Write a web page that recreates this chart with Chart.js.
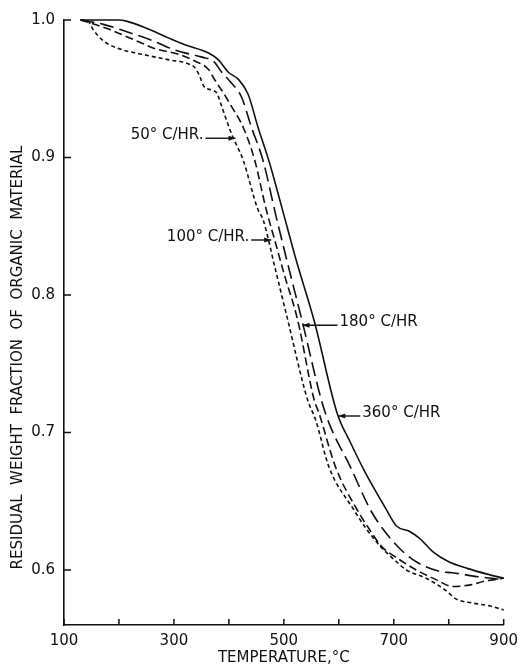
<!DOCTYPE html>
<html>
<head>
<meta charset="utf-8">
<script src="https://cdn.jsdelivr.net/npm/chart.js@4.4.1/dist/chart.umd.min.js"></script>
<style>
  html, body { margin: 0; padding: 0; background: #fff; }
  #wrap { width: 525px; height: 668px; }
</style>
</head>
<body>
<div id="wrap"><canvas id="tgaChart" width="525" height="668"></canvas></div>
<script>
// residual weight fraction vs temperature, one pair of arrays per heating rate
const rate360Temp = [130, 200, 215, 250, 290, 320, 363, 381, 399, 417, 435, 453, 474, 492, 507, 522, 556, 597, 622, 648, 685, 705, 729, 747, 772, 800, 835, 870, 900];
const rate360Frac = [1.0, 1.0, 0.999, 0.994, 0.987, 0.982, 0.976, 0.971, 0.962, 0.957, 0.946, 0.922, 0.896, 0.870, 0.848, 0.826, 0.780, 0.714, 0.692, 0.671, 0.645, 0.632, 0.628, 0.623, 0.613, 0.606, 0.601, 0.597, 0.594];

const rate180Temp = [130, 170, 225, 261, 303, 351, 372, 387, 405, 423, 441, 462, 486, 510, 534, 568, 582, 621, 660, 705, 741, 783, 807, 855, 900];
const rate180Frac = [1.0, 0.997, 0.990, 0.985, 0.978, 0.973, 0.970, 0.962, 0.954, 0.944, 0.922, 0.898, 0.857, 0.818, 0.780, 0.724, 0.707, 0.675, 0.642, 0.618, 0.606, 0.599, 0.598, 0.595, 0.593];

const rate100Temp = [130, 177, 231, 267, 309, 339, 363, 375, 390, 405, 426, 447, 468, 482, 500, 525, 555, 564, 594, 633, 655, 678, 705, 741, 777, 807, 837, 867, 900];
const rate100Frac = [1.0, 0.994, 0.985, 0.979, 0.975, 0.970, 0.964, 0.956, 0.947, 0.937, 0.922, 0.898, 0.862, 0.842, 0.816, 0.782, 0.724, 0.714, 0.675, 0.644, 0.630, 0.617, 0.609, 0.600, 0.593, 0.588, 0.589, 0.592, 0.594];

const rate50Temp = [130, 144, 153, 171, 201, 243, 291, 327, 339, 348, 354, 369, 378, 387, 405, 426, 453, 462, 485, 507, 543, 558, 582, 627, 650, 676, 705, 723, 759, 795, 813, 843, 873, 900];
const rate50Frac = [1.0, 0.999, 0.993, 0.985, 0.979, 0.975, 0.971, 0.968, 0.965, 0.958, 0.952, 0.949, 0.947, 0.937, 0.917, 0.898, 0.862, 0.855, 0.818, 0.782, 0.724, 0.709, 0.675, 0.644, 0.630, 0.617, 0.606, 0.600, 0.594, 0.585, 0.579, 0.576, 0.574, 0.571];

const rateLabels = ['360° C/HR', '180° C/HR', '100° C/HR.', '50° C/HR.'];

const xTickValues = [100, 200, 300, 400, 500, 600, 700, 800, 900];
const xTickLabels = [100, 300, 500, 700, 900];
const yTickValues = [0.6, 0.7, 0.8, 0.9, 1.0];

const FONT = 'DejaVu Sans';
const INK = '#111';

// labels on the curves: text + where the arrow touches the curve
const notes = [
    { text: rateLabels[3], tipT: 412, tipV: 0.914, side: 'left', arrow: 30 },
    { text: rateLabels[2], tipT: 477, tipV: 0.840, side: 'left', arrow: 20 },
    { text: rateLabels[1], tipT: 534, tipV: 0.778, side: 'right', arrow: 35 },
    { text: rateLabels[0], tipT: 599, tipV: 0.712, side: 'right', arrow: 22 }
];

function toPoints(temps, fracs) {
    return temps.map((t, i) => ({ x: t, y: fracs[i] }));
}

function lineSet(label, temps, fracs, dash) {
    return {
        label: label,
        data: toPoints(temps, fracs),
        borderColor: INK,
        borderWidth: 1.6,
        borderDash: dash,
        pointRadius: 0,
        fill: false,
        cubicInterpolationMode: 'monotone',
        clip: 4
    };
}

// tick marks point into the plot on both axes
const tickMarks = {
    id: 'tickMarks',
    afterDraw(chart) {
        const { ctx, chartArea, scales: { x, y } } = chart;
        ctx.save();
        ctx.strokeStyle = INK;
        ctx.lineWidth = 1.5;
        ctx.beginPath();
        xTickValues.forEach(v => {
            const px = x.getPixelForValue(v);
            ctx.moveTo(px, chartArea.bottom);
            ctx.lineTo(px, chartArea.bottom - 6);
        });
        yTickValues.forEach(v => {
            const py = y.getPixelForValue(v);
            ctx.moveTo(chartArea.left, py);
            ctx.lineTo(chartArea.left + 7, py);
        });
        ctx.stroke();
        ctx.restore();
    }
};

// vertical y title, sits a bit below the middle of the axis like the original
const yTitle = {
    id: 'yTitle',
    afterDraw(chart) {
        const { ctx, chartArea } = chart;
        ctx.save();
        ctx.translate(18, (chartArea.top + chartArea.bottom) / 2 + 35);
        ctx.rotate(-Math.PI / 2);
        ctx.fillStyle = INK;
        ctx.font = '15px "' + FONT + '"';
        ctx.textAlign = 'center';
        ctx.textBaseline = 'middle';
        ctx.fillText('RESIDUAL  WEIGHT  FRACTION  OF  ORGANIC  MATERIAL', 0, 0);
        ctx.restore();
    }
};

const curveNotes = {
    id: 'curveNotes',
    afterDatasetsDraw(chart) {
        const { ctx, scales: { x, y } } = chart;
        ctx.save();
        ctx.fillStyle = INK;
        ctx.strokeStyle = INK;
        ctx.lineWidth = 1.4;
        ctx.font = '15px "' + FONT + '"';
        ctx.textBaseline = 'alphabetic';
        notes.forEach(n => {
            const tx = x.getPixelForValue(n.tipT);
            const ty = y.getPixelForValue(n.tipV);
            const dir = n.side === 'left' ? -1 : 1;
            const end = tx + dir * n.arrow;
            ctx.beginPath();
            ctx.moveTo(end, ty);
            ctx.lineTo(tx, ty);
            ctx.stroke();
            // arrow head
            ctx.beginPath();
            ctx.moveTo(tx, ty);
            ctx.lineTo(tx + dir * 7, ty - 2.5);
            ctx.lineTo(tx + dir * 7, ty + 2.5);
            ctx.closePath();
            ctx.fill();
            ctx.textAlign = n.side === 'left' ? 'right' : 'left';
            ctx.fillText(n.text, end + dir * 2, ty + 1);
        });
        ctx.restore();
    }
};

new Chart(document.getElementById('tgaChart'), {
    type: 'line',
    data: {
        datasets: [
            lineSet(rateLabels[0], rate360Temp, rate360Frac, []),
            lineSet(rateLabels[1], rate180Temp, rate180Frac, [14, 6]),
            lineSet(rateLabels[2], rate100Temp, rate100Frac, [8, 4]),
            lineSet(rateLabels[3], rate50Temp, rate50Frac, [4, 3])
        ]
    },
    options: {
        responsive: false,
        devicePixelRatio: 1,
        animation: false,
        layout: { padding: { top: 20, right: 17, left: 0, bottom: 0 } },
        plugins: {
            legend: { display: false },
            tooltip: { enabled: false }
        },
        scales: {
            x: {
                type: 'linear',
                min: 100,
                max: 900,
                afterBuildTicks: s => { s.ticks = xTickValues.map(v => ({ value: v })); },
                afterFit: s => { s.height = 43; },
                grid: { display: false, tickLength: 0 },
                border: { display: true, color: INK, width: 1.6 },
                ticks: {
                    autoSkip: false,
                    maxRotation: 0,
                    padding: 7,
                    color: INK,
                    font: { family: FONT, size: 15 },
                    callback: v => xTickLabels.includes(v) ? String(v) : ''
                },
                title: {
                    display: true,
                    text: 'TEMPERATURE,°C',
                    color: INK,
                    font: { family: FONT, size: 15 },
                    padding: { top: 0, bottom: 1 }
                }
            },
            y: {
                type: 'linear',
                min: 0.56,
                max: 1.0,
                afterBuildTicks: s => { s.ticks = yTickValues.map(v => ({ value: v })); },
                afterFit: s => { s.width = 64; },
                grid: { display: false, tickLength: 0 },
                border: { display: true, color: INK, width: 1.6 },
                ticks: {
                    padding: 9,
                    color: INK,
                    font: { family: FONT, size: 15 },
                    callback: v => v.toFixed(1)
                }
            }
        }
    },
    plugins: [tickMarks, yTitle, curveNotes]
});
</script>
</body>
</html>
